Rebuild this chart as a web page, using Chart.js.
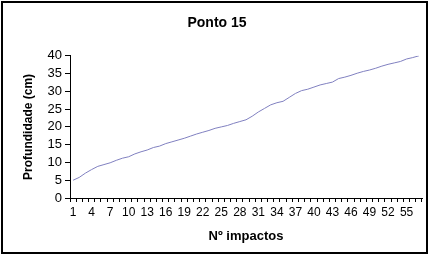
<!DOCTYPE html>
<html>
<head>
<meta charset="utf-8">
<script src="https://cdn.jsdelivr.net/npm/chart.js@4"></script>
<style>
  html, body { margin: 0; padding: 0; background: #fff; }
  #wrap { width: 429px; height: 255px; }
</style>
</head>
<body>
<div id="wrap"><canvas id="ponto15" width="429" height="255"></canvas></div>
<script>
const impactos = [];
for (let i = 1; i <= 57; i++) impactos.push(i);

const profundidade = [
  5.0, 5.8, 7.0, 8.0, 8.9, 9.4, 9.9, 10.6, 11.2, 11.6,
  12.4, 13.0, 13.5, 14.2, 14.6, 15.3, 15.8, 16.3, 16.8, 17.4,
  18.0, 18.5, 19.0, 19.6, 20.0, 20.4, 21.0, 21.5, 22.0, 23.0,
  24.2, 25.2, 26.2, 26.8, 27.2, 28.3, 29.4, 30.2, 30.6, 31.2,
  31.8, 32.2, 32.6, 33.6, 34.0, 34.5, 35.1, 35.6, 36.0, 36.5,
  37.1, 37.6, 38.0, 38.4, 39.1, 39.5, 40.0
];

const yTicks = [0, 5, 10, 15, 20, 25, 30, 35, 40];

const fontName = "'Liberation Sans', Arial, sans-serif";

const frame = {
  id: 'frame',
  beforeDraw(chart) {
    const c = chart.ctx;
    c.save();
    c.fillStyle = '#fff';
    c.fillRect(0, 0, chart.width, chart.height);
    c.restore();
  },
  afterDraw(chart) {
    const c = chart.ctx;
    c.save();
    c.strokeStyle = '#000';
    c.lineWidth = 2;
    c.strokeRect(2, 2, 425, 251);
    c.restore();
  }
};

const ctx = document.getElementById('ponto15').getContext('2d');
const ponto15Chart = new Chart(ctx, {
  type: 'line',
  data: {
    labels: impactos,
    datasets: [{
      label: 'Profundidade',
      data: profundidade,
      borderColor: '#8080c0',
      borderWidth: 1,
      pointRadius: 0,
      tension: 0,
      fill: false,
    }],
  },
  options: {
    responsive: false,
    animation: false,
    layout: { padding: { left: 12, right: 7, top: 10, bottom: 8 } },
    plugins: {
      legend: { display: false },
      tooltip: { enabled: false },
      title: {
        display: true,
        text: 'Ponto 15',
        color: '#000',
        font: { family: fontName, size: 14, weight: 'bold' },
        padding: { top: 5, bottom: 24 },
      },
    },
    scales: {
      x: {
        type: 'category',
        offset: true,
        afterFit(scale) { scale.height = 49; },
        grid: {
          offset: true,
          drawOnChartArea: false,
          tickLength: 4,
          tickColor: '#000',
        },
        border: { color: '#000', width: 1 },
        ticks: {
          autoSkip: false,
          maxRotation: 0,
          padding: 3,
          color: '#000',
          font: { family: fontName, size: 12 },
          callback(value, index) {
            return index % 3 === 0 ? this.getLabelForValue(value) : '';
          },
        },
        title: {
          display: true,
          text: 'Nº impactos',
          color: '#000',
          font: { family: fontName, size: 13, weight: 'bold' },
          padding: { top: 4, bottom: 3 },
        },
      },
      y: {
        min: 0,
        max: 40,
        afterFit(scale) { scale.width = 58; },
        afterBuildTicks(scale) { scale.ticks = yTicks.map(v => ({ value: v })); },
        grid: {
          drawOnChartArea: false,
          tickLength: 5,
          tickColor: '#000',
        },
        border: { color: '#000', width: 1 },
        ticks: {
          autoSkip: false,
          padding: 3,
          color: '#000',
          font: { family: fontName, size: 13 },
        },
        title: {
          display: true,
          text: 'Profundidade (cm)',
          color: '#000',
          font: { family: fontName, size: 12, weight: 'bold' },
          padding: { top: 9, bottom: 4 },
        },
      },
    },
  },
  plugins: [frame],
});
</script>
</body>
</html>
